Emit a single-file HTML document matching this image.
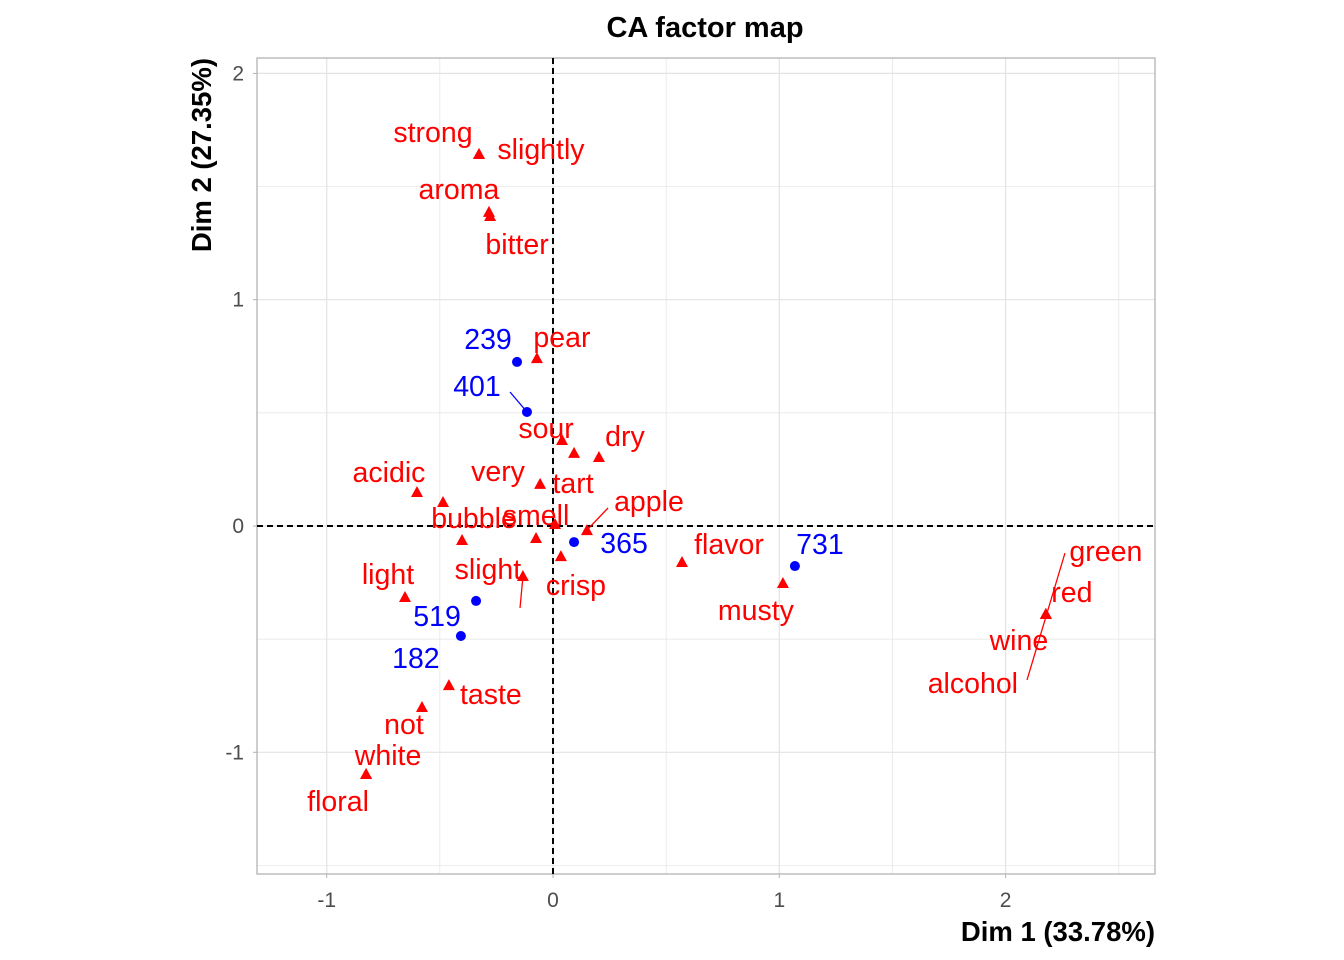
<!DOCTYPE html>
<html><head><meta charset="utf-8"><style>
body{margin:0;background:#fff;}
svg{display:block;font-family:"Liberation Sans",Arial,sans-serif;}
</style></head><body>
<svg id="chart" width="1344" height="960" xmlns="http://www.w3.org/2000/svg"></svg>
<script>
// Column (word) points
const wordNames=["strong","slightly","aroma","bitter","pear","sour","dry-a","dry","very","acidic","tart","smell","apple","bubble","mid","crisp","slight","flavor","musty","green","red","wine","alcohol","light","taste","not","white","floral"];
const wordX=[-0.327,-0.327,-0.283,-0.278,-0.071,0.040,0.093,0.203,-0.486,-0.601,-0.057,0.009,0.150,-0.402,-0.075,0.035,-0.133,0.570,1.016,2.178,2.178,2.178,2.178,-0.654,-0.460,-0.579,-0.826,-0.826];
const wordY=[1.644,1.644,1.388,1.370,0.742,0.380,0.323,0.305,0.106,0.150,0.186,0.009,-0.018,-0.062,-0.053,-0.133,-0.221,-0.159,-0.252,-0.389,-0.389,-0.389,-0.389,-0.314,-0.703,-0.800,-1.096,-1.096];
const wordLabels=["strong","slightly","aroma","bitter","pear","sour","","dry","very","acidic","tart","smell","apple","bubble","","crisp","slight","flavor","musty","green","red","wine","alcohol","light","taste","not","white","floral"];
// Row (sample) points
const rowLabels=["239","401","365","731","519","182"];
const rowX=[-0.159,-0.115,0.093,1.069,-0.340,-0.407];
const rowY=[0.725,0.504,-0.071,-0.177,-0.331,-0.486];
const xTicks=[-1,0,1,2];
const yTicks=[-1,0,1,2];
// label placements (pixel offsets from point, text anchor centre/baseline)
const wordOff=[[-46,-12],[62,5],[-30,-13],[27,38],[25,-11],[-16,-2],[0,0],[26,-11],[55,-21],[-28,-10],[33,9],[-19,1],[62,-19],[12,-12],[0,0],[15,39],[-35,3],[47,-8],[-27,37],[60,-53],[26,-12],[-27,36],[-73,79],[-17,-13],[42,19],[-18,27],[22,-9],[-28,37]];
const rowOff=[[-29,-13],[-50,-16],[50,11],[25,-12],[-39,25],[-45,32]];

const NS="http://www.w3.org/2000/svg";
const svg=document.getElementById('chart');
const L=257,R=1155,T=58,B=874;
const FS=28.5;
const sx=v=>553+v*226.3, sy=v=>526-v*226.3;
function el(tag,attrs,parent){const e=document.createElementNS(NS,tag);for(const k in attrs)e.setAttribute(k,attrs[k]);(parent||svg).appendChild(e);return e;}

for(let v=-1.5;v<=2.6;v+=0.5){const x=sx(v);if(x<L||x>R)continue;
 const g=el('line',{x1:x,x2:x,y1:T,y2:B,stroke:'#e3e3e3','stroke-width':Number.isInteger(v)?1.2:0.7});
 }
for(let v=-1.5;v<=2.1;v+=0.5){const y=sy(v);if(y<T||y>B)continue;
 const g=el('line',{x1:L,x2:R,y1:y,y2:y,stroke:'#e3e3e3','stroke-width':Number.isInteger(v)?1.2:0.7});
 }
const fr=el('rect',{x:L,y:T,width:R-L,height:B-T,fill:'none',stroke:'#b3b3b3','stroke-width':1.3});

const h0=el('line',{x1:L,x2:R,y1:sy(0),y2:sy(0),stroke:'#000','stroke-width':2,'stroke-dasharray':'6,4'});

const v0=el('line',{x1:sx(0),x2:sx(0),y1:T,y2:B,stroke:'#000','stroke-width':2,'stroke-dasharray':'6,4'});


xTicks.forEach(v=>{const t=el('text',{x:sx(v),y:907,'text-anchor':'middle','font-size':21,fill:'#4d4d4d'});t.textContent=v;
 
 const k=el('line',{x1:sx(v),x2:sx(v),y1:B,y2:B+4,stroke:'#b3b3b3'});});
yTicks.forEach(v=>{const t=el('text',{x:244,y:sy(v)+7,'text-anchor':'end','font-size':21,fill:'#4d4d4d'});t.textContent=v;
 
 const k=el('line',{x1:L-4,x2:L,y1:sy(v),y2:sy(v),stroke:'#b3b3b3'});});

[[510,392,527,412],[608,508,587,530],[523,576,520,608],[1065,553,1027,680]].forEach(s=>{
 const l=el('line',{x1:s[0],y1:s[1],x2:s[2],y2:s[3],stroke:s[0]===510?'#0000ff':'#ff0000','stroke-width':1.3});
 });

wordX.forEach((v,i)=>{const x=sx(v),y=sy(wordY[i]);
 const p=el('polygon',{points:`${x},${y-6} ${x-6},${y+5} ${x+6},${y+5}`,fill:'#ff0000'});
 
 if(wordLabels[i]){const t=el('text',{x:x+wordOff[i][0],y:y+wordOff[i][1],'text-anchor':'middle','font-size':FS,fill:'#ff0000'});t.textContent=wordLabels[i];
 }});
rowX.forEach((v,i)=>{const x=sx(v),y=sy(rowY[i]);
 const c=el('circle',{cx:x,cy:y,r:5,fill:'#0000ff'});
 
 const t=el('text',{x:x+rowOff[i][0],y:y+rowOff[i][1],'text-anchor':'middle','font-size':FS,fill:'#0000ff'});t.textContent=rowLabels[i];
 });

const ti=el('text',{x:705,y:37,'text-anchor':'middle','font-size':29,'font-weight':'bold',fill:'#000'});ti.textContent='CA factor map';

const xt=el('text',{x:1155,y:941,'text-anchor':'end','font-size':27.5,'font-weight':'bold',fill:'#000'});xt.textContent='Dim 1 (33.78%)';

const yt=el('text',{x:0,y:0,'text-anchor':'end','font-size':27.5,'font-weight':'bold',fill:'#000',transform:'translate(211,58) rotate(-90)'});yt.textContent='Dim 2 (27.35%)';

</script>
</body></html>
